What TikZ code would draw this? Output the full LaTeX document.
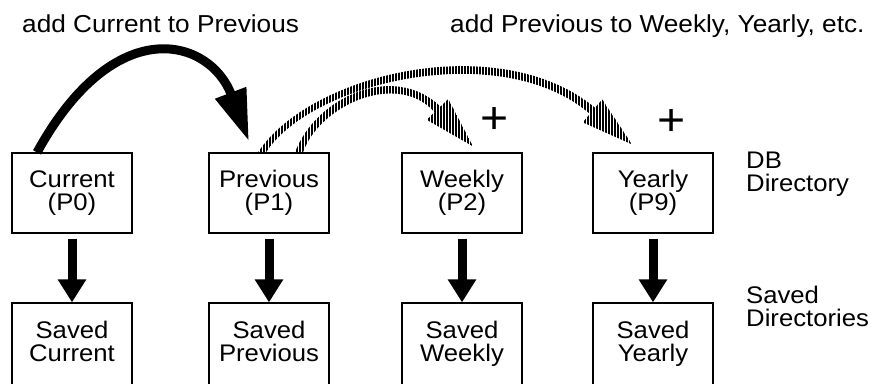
\documentclass[tikz,border=0pt]{standalone}
\usepackage{fontspec}
\setmainfont{Liberation Sans}[FakeStretch=1.07]
\usetikzlibrary{arrows.meta}
\usetikzlibrary{patterns.meta}

\begin{document}
\begin{tikzpicture}[x=1pt,y=1pt, font=\fontsize{24}{23}\selectfont,
    dirbox/.style={draw, line width=1.2pt, minimum width=120pt, minimum height=80pt, inner sep=0pt, align=center},
    savedbox/.style={dirbox, minimum height=82pt, text depth=5pt},
    copyarrow/.style={line width=9pt, -{Triangle[length=23pt,width=27pt]}, shorten <=5pt},
    addarrow/.style={line width=9pt, -{Triangle[length=52pt,width=31pt]}},
    hatcharrow/.style={pattern={Lines[angle=90,distance=3pt,line width=1.7pt]}},
    plussign/.style={font=\fontsize{45}{45}\selectfont, inner sep=0pt},
    sidelabel/.style={anchor=west, align=left, inner sep=0pt}]
      \useasboundingbox (0,0) rectangle (874,383);
      \clip (0,0) rectangle (874,383);

      \node[dirbox] (cur) at (72,190) {Current\\(P0)};
      \node[dirbox] (prev) at (269,190) {Previous\\(P1)};
      \node[dirbox] (week) at (462,190) {Weekly\\(P2)};
      \node[dirbox] (year) at (653,190) {Yearly\\(P9)};

      \node[savedbox] (scur) at (72,39) {Saved\\Current};
      \node[savedbox] (sprev) at (269,39) {Saved\\Previous};
      \node[savedbox] (sweek) at (462,39) {Saved\\Weekly};
      \node[savedbox] (syear) at (653,39) {Saved\\Yearly};

      \foreach \a/\b in {cur/scur, prev/sprev, week/sweek, year/syear} \draw[copyarrow] (\a) -- (\b);

      \draw[addarrow] ([xshift=-35pt]cur.north) .. controls +(78,142) and +(-39,103) .. ([shift={(-20,11)}]prev.north);

      \path[hatcharrow, shift={(prev.north)}] (26,0) .. controls (47.2,56) and (125.4,90.6) .. (171.4,45.8)
        -- (179.3,53.4) -- (204,6) -- (157.7,32.6) -- (165.6,40.2) .. controls (128.7,82) and (50.5,47.4) .. (34,0) -- cycle;
      \path[hatcharrow, shift={(prev.north)}] (-11,0) .. controls (41.4,79.9) and (231.2,123.5) .. (326.1,44.6)
        -- (333.2,53) -- (363,8) -- (313.8,30) -- (320.9,38.5) .. controls (232.6,114.7) and (42.8,71.1) .. (-3,0) -- cycle;

      \node[plussign] (plusweek) at (495,262) {+};
      \node[plussign] (plusyear) at (672,260) {+};

      \node[anchor=base west, inner sep=0pt, font=\fontsize{24.5}{24}\selectfont] (addcur) at (22,350) {add Current to Previous};
      \node[anchor=base west, inner sep=0pt, font=\fontsize{24.5}{24}\selectfont] (addprev) at (450,350) {add Previous to Weekly, Yearly, etc.};

      \node[sidelabel] (dblabel) at (746,209) {DB\\Directory};
      \node[sidelabel] (savedlabel) at (746,76.5) {Saved\\Directories};
    \end{tikzpicture}
\end{document}
